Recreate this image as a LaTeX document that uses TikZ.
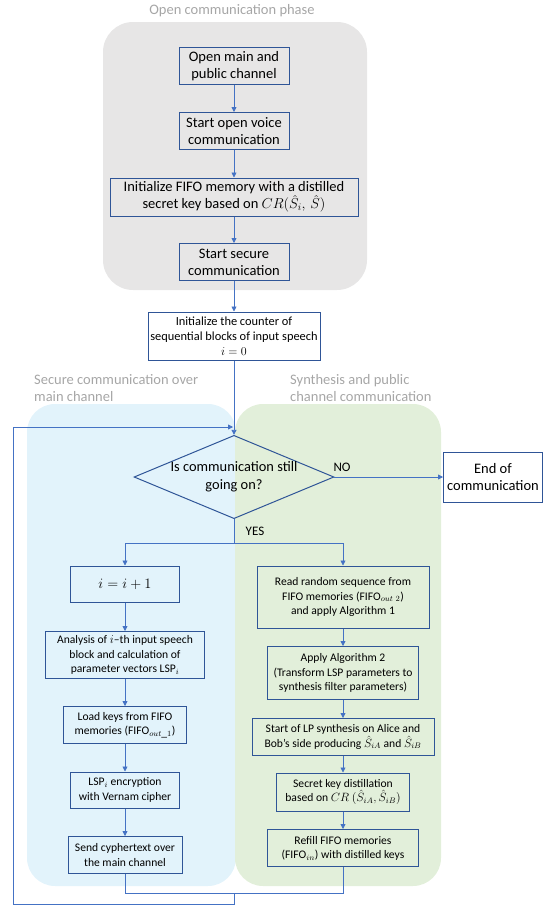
\documentclass[tikz,border=0pt]{standalone}
\usepackage{fontspec}
\setmainfont{Carlito}
\usetikzlibrary{calc,shapes.geometric,arrows.meta}
\definecolor{boxblue}{RGB}{47,85,151}
\definecolor{lineblue}{RGB}{68,114,196}
\definecolor{panelgray}{RGB}{231,230,230}
\definecolor{panelblue}{RGB}{226,243,251}
\definecolor{panelgreen}{RGB}{226,239,218}
\definecolor{titlegray}{RGB}{166,166,166}

\begin{document}
\begin{tikzpicture}[x=1pt,y=-1pt]
    \tikzstyle{every node}=[inner sep=1, align=center]
    \tikzstyle{blk}=[draw=boxblue, line width=1pt, font=\fontsize{14.5}{17}\selectfont]
    \tikzstyle{sblk}=[blk, font=\fontsize{11.6}{14.2}\selectfont]
    \tikzstyle{ttl}=[text=titlegray, font=\fontsize{14.5}{17.5}\selectfont]
    \tikzstyle{lbl}=[font=\fontsize{13}{15}\selectfont]
    \tikzstyle{ln}=[draw=lineblue, line width=.8pt]
    \tikzstyle{arr}=[ln, -{Triangle[length=5pt,width=5pt]}]
    \useasboundingbox (0,0) rectangle (550,911);
    % Panels behind the chart
    \fill[panelgray, rounded corners=30] (103,22) rectangle (367,290);
    \fill[panelblue, rounded corners=28] (27,404) rectangle (236,886);
    \fill[panelgreen, rounded corners=28] (235,404) rectangle (441,886);
    \node[ttl] (PHASE) at (232,11) {Open communication phase};
    \node[ttl, anchor=west, align=left] (MAINCH) at (33,388) {Secure communication over\\main channel};
    \node[ttl, anchor=west, align=left] (PUBCH) at (289,388) {Synthesis and public\\channel communication};
    % Open phase
    \node[blk, minimum width=110, minimum height=37] (OPEN) at (234,66) {Open main and\\public channel};
    \node[blk, minimum width=110, minimum height=37] (VOICE) at ($(OPEN)+(0,65)$) {Start open voice\\communication};
    \node[blk, minimum width=248, minimum height=38] (INIT) at ($(VOICE)+(0,66)$) {Initialize FIFO memory with a distilled\\secret key based on $CR(\hat{S}_i,\,\hat{S})$};
    \node[blk, minimum width=110, minimum height=37] (SECURE) at ($(INIT)+(0,65)$) {Start secure\\communication};
    \node[sblk, font=\fontsize{12.4}{15.3}\selectfont, minimum width=172, minimum height=48] (CNT) at ($(SECURE)+(0,74)$) {Initialize the counter of\\sequential blocks of input speech\\$i=0$};
    % Loop test
    \node[diamond, draw=boxblue, line width=1pt, shape aspect=2.4, inner sep=0, minimum width=192, minimum height=80, font=\fontsize{14.4}{18}\selectfont] (TEST) at (234,477) {Is communication still\\going on?};
    \node[blk, minimum width=99, minimum height=50] (END) at (493,477) {End of\\communication};
    \node[lbl] (NO) at (342,467) {NO};
    \node[lbl] (YES) at (255,531) {YES};
    % Left column
    \node[sblk, font=\fontsize{15}{17}\selectfont, minimum width=109, minimum height=36] (INC) at (125,584) {$i=i+1$};
    \node[sblk, minimum width=159, minimum height=47] (ANA) at ($(INC)+(0,71)$) {Analysis of $i$--th input speech\\block and calculation of\\parameter vectors $\mathrm{LSP}_i$};
    \node[sblk, minimum width=123, minimum height=37] (LOAD) at ($(ANA)+(0,70)$) {Load keys from FIFO\\memories ($\mathrm{FIFO}_{out\_1}$)};
    \node[sblk, minimum width=109, minimum height=36] (ENC) at ($(LOAD)+(0,65)$) {$\mathrm{LSP}_i$ encryption\\with Vernam cipher};
    \node[sblk, minimum width=114, minimum height=37] (SEND) at ($(ENC)+(0,65)$) {Send cyphertext over\\the main channel};
    % Right column
    \node[sblk, minimum width=172, minimum height=62] (READ) at (343,597) {Read random sequence from\\FIFO memories ($\mathrm{FIFO}_{out\ 2}$)\\and apply Algorithm 1};
    \node[sblk, minimum width=151, minimum height=53] (ALG) at ($(READ)+(0,76)$) {Apply Algorithm 2\\(Transform LSP parameters to\\synthesis filter parameters)};
    \node[sblk, minimum width=182, minimum height=37] (SYN) at ($(ALG)+(0,64)$) {Start of LP synthesis on Alice and\\Bob’s side producing $\hat{S}_{iA}\ \mathrm{and}\ \hat{S}_{iB}$};
    \node[sblk, minimum width=133, minimum height=38] (DIST) at ($(SYN)+(0,55)$) {Secret key distillation\\based on $CR\ (\hat{S}_{iA},\hat{S}_{iB})$};
    \node[sblk, minimum width=151, minimum height=37] (FILL) at ($(DIST)+(0,56)$) {Refill FIFO memories\\($\mathrm{FIFO}_{in}$) with distilled keys};
    % Helper points
    \coordinate (ENTRY) at (233,427);
    \coordinate (BR) at ($(TEST.south)+(0,24)$);
    \coordinate (JOIN) at (234,893);
    \coordinate (LOOP) at (13,904);
    % Connectors
    \draw[arr] (OPEN) -- (VOICE);
    \draw[arr] (VOICE) -- (INIT);
    \draw[arr] (INIT) -- (SECURE);
    \draw[arr] (SECURE) -- (CNT);
    \draw[arr] (CNT) -- (TEST);
    \draw[arr] (TEST) -- (END);
    \draw[ln] (TEST.south) -- (BR);
    \draw[arr] (BR) -| (INC);
    \draw[arr] (BR) -| (READ);
    \draw[arr] (INC) -- (ANA);
    \draw[arr] (ANA) -- (LOAD);
    \draw[arr] (LOAD) -- (ENC);
    \draw[arr] (ENC) -- (SEND);
    \draw[arr] (READ) -- (ALG);
    \draw[arr] (ALG) -- (SYN);
    \draw[arr] (SYN) -- (DIST);
    \draw[arr] (DIST) -- (FILL);
    \draw[ln] (SEND.south) |- (JOIN) -| (FILL.south);
    \draw[arr] (JOIN) |- (LOOP) |- (ENTRY);
\end{tikzpicture}
\end{document}
